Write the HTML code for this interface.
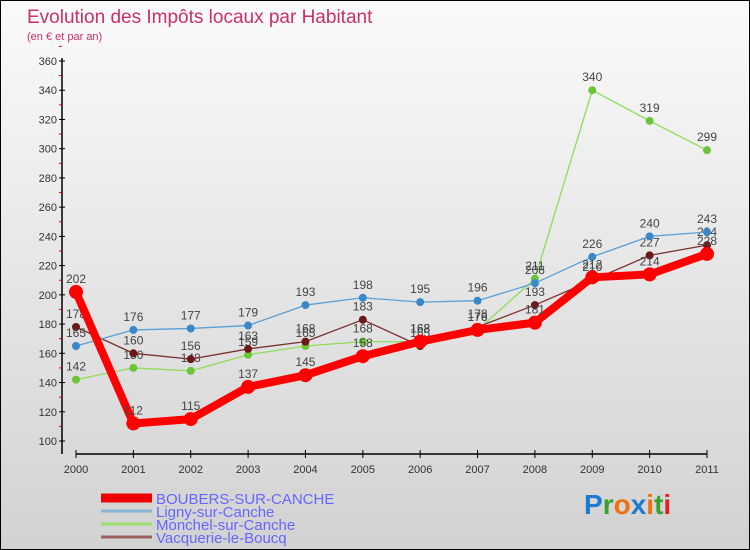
<!DOCTYPE html>
<html><head><meta charset="utf-8"><style>
body{margin:0;}
#wrap{width:750px;height:550px;position:relative;box-sizing:border-box;border:1px solid #000;background:linear-gradient(#fafafa,#d2d2d2);font-family:"Liberation Sans",sans-serif;overflow:hidden;}
svg text{font-family:"Liberation Sans",sans-serif;}
</style></head><body>
<div id="wrap">
<svg id="c" width="750" height="550">
<text x="26" y="22" font-size="19" fill="#c8306a">Evolution des Impôts locaux par Habitant</text>
<text x="26" y="39" font-size="11" fill="#c8306a">(en € et par an)</text>
</svg>
</div>
<script>
const years=["2000","2001","2002","2003","2004","2005","2006","2007","2008","2009","2010","2011"];
const boubers=[202,112,115,137,145,158,168,176,181,212,214,228];
const ligny=[165,176,177,179,193,198,195,196,208,226,240,243];
const monchel=[142,150,148,159,165,168,168,176,211,340,319,299];
const vacquerie=[178,160,156,163,168,183,165,178,193,210,227,234];
const yTicks=[100,120,140,160,180,200,220,240,260,280,300,320,340,360];
const seriesNames=["BOUBERS-SUR-CANCHE","Ligny-sur-Canche","Monchel-sur-Canche","Vacquerie-le-Boucq"];

const NS="http://www.w3.org/2000/svg";
const svg=document.getElementById('c');
function el(t,a,p){const e=document.createElementNS(NS,t);for(const k in a)e.setAttribute(k,a[k]);(p||svg).appendChild(e);return e;}
const x=i=>75+i*(706-75)/(years.length-1);
const y=v=>440-(v-100)*380/260;

let ax=el('line',{x1:61,y1:57,x2:61,y2:453,stroke:'#000','stroke-width':1.5});


yTicks.forEach(v=>{
  el('line',{x1:58,y1:y(v),x2:64,y2:y(v),stroke:'#000'});
  el('line',{x1:58,y1:y(v+10),x2:61,y2:y(v+10),stroke:'#e00'});
  const t=el('text',{x:56,y:y(v)+4,'font-size':11,'text-anchor':'end',fill:'#333'});
  t.textContent=v;
  
  
});
let xa=el('line',{x1:x(0),y1:453,x2:x(11),y2:453,stroke:'#000','stroke-width':1.5});


years.forEach((yr,i)=>{
  el('line',{x1:x(i),y1:449,x2:x(i),y2:457,stroke:'#000'});
  const t=el('text',{x:x(i),y:472,'font-size':11,'text-anchor':'middle',fill:'#333'});
  t.textContent=yr;
  
  
});
function series(d,color,dot,w,r,name){
  const g=el('g',{});
  
  
  el('polyline',{points:d.map((v,i)=>x(i)+','+y(v)).join(' '),fill:'none',stroke:color,'stroke-width':w,'stroke-linejoin':'round'},g);
  d.forEach((v,i)=>{
    const c=el('circle',{cx:x(i),cy:y(v),r:r,fill:dot},g);
    
    
    const t=el('text',{x:x(i),y:y(v)-9,'font-size':12,'text-anchor':'middle',fill:'#444'},g);
    t.textContent=v;
  });
}
series(monchel,'#8fdc5a','#6cc43a',1.3,4,'series-monchel');
series(vacquerie,'#7a3030','#6a1818',1.3,4,'series-vacquerie');
series(ligny,'#5aa0d6','#3a88c8',1.3,4,'series-ligny');
series(boubers,'#f00','#f00',8,7,'series-boubers');

const lcol=['#e00','#8ab4d4','#9ee070','#9a6060'];
seriesNames.forEach((n,i)=>{
  const yy=497+i*13;
  const l=el('line',{x1:100,y1:yy,x2:151,y2:yy,stroke:lcol[i],'stroke-width':i==0?9:3});
  
  
  const t=el('text',{x:155,y:yy+6,'font-size':15,fill:'#6666ff'});
  t.textContent=n;
  
  
});
const logo=el('text',{x:583,y:513,'font-size':28,'font-weight':'bold'});


[['P','#1e7ad0'],['r','#3aa030'],['o','#f07010'],['x','#1e7ad0'],['i','#f07010'],['t','#3aa030'],['i','#e02020']].forEach(([c,f])=>{const s=el('tspan',{fill:f},logo);s.textContent=c;});
</script>
</body></html>
